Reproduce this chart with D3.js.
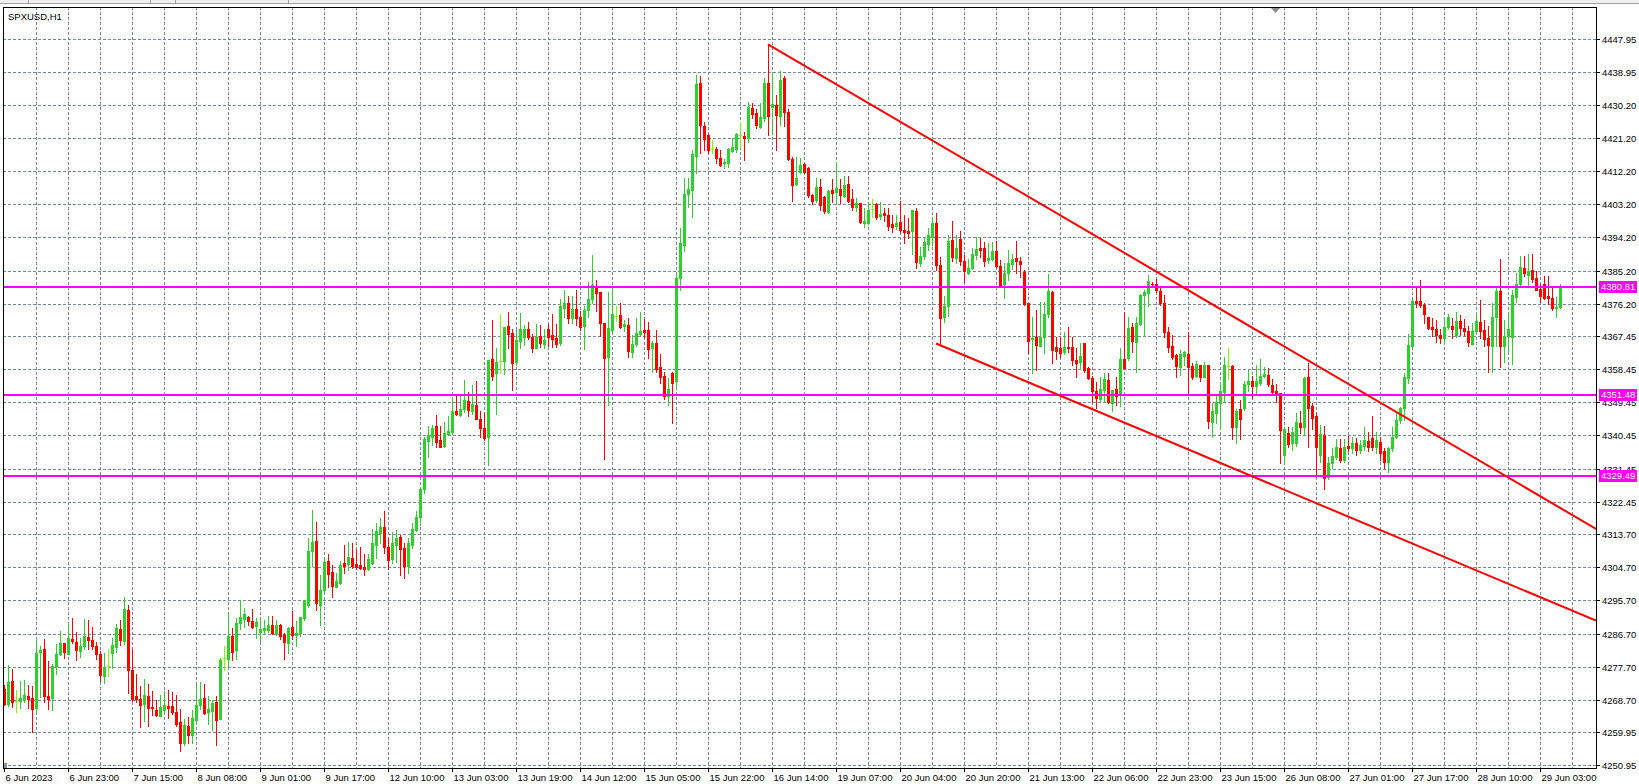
<!DOCTYPE html>
<html><head><meta charset="utf-8">
<script src="https://cdn.jsdelivr.net/npm/d3@7"></script>
<style>
html,body{margin:0;padding:0;background:#fff;}
svg{display:block;font-family:"Liberation Sans",Arial,sans-serif;}
</style>
</head><body>
<svg id="chart" width="1639" height="784"></svg>
<script>
const symbolTitle = "SPXUSD,H1";
const timeLabels = ["6 Jun 2023","6 Jun 23:00","7 Jun 15:00","8 Jun 08:00","9 Jun 01:00","9 Jun 17:00","12 Jun 10:00","13 Jun 03:00","13 Jun 19:00","14 Jun 12:00","15 Jun 05:00","15 Jun 22:00","16 Jun 14:00","19 Jun 07:00","20 Jun 04:00","20 Jun 20:00","21 Jun 13:00","22 Jun 06:00","22 Jun 23:00","23 Jun 15:00","26 Jun 08:00","27 Jun 01:00","27 Jun 17:00","28 Jun 10:00","29 Jun 03:00"];
const timeLabelBars = [0,16,32,48,64,80,96,112,128,144,160,176,192,208,224,240,256,272,288,304,320,336,352,368,384];
const priceTicks = ["4447.95","4438.95","4430.20","4421.20","4412.20","4403.20","4394.20","4385.20","4376.20","4367.45","4358.45","4349.45","4340.45","4331.45","4322.45","4313.70","4304.70","4295.70","4286.70","4277.70","4268.70","4259.95","4250.95"];
const levelPrices = [4380.81, 4351.48, 4329.49];
const trendUpper = [[191, 4446.6], [398, 4315.1]];
const trendLower = [[233, 4365.4], [398, 4290.2]];

const open = [
4271.6,4267.6,4273.8,4268.3,4268.5,4268.8,4269.8,4269.2,4266.6,4281.8,
4282.5,4269.8,4269.3,4277.9,4281.2,4284.1,4281.2,4285.2,4284.4,4282.1,
4283.3,4285.8,4285.0,4283.3,4281.2,4275.2,4277.9,4281.4,4283.0,4287.9,
4284.8,4293.1,4276.8,4269.8,4268.9,4267.6,4269.8,4266.8,4266.0,4264.3,
4266.0,4267.0,4267.0,4265.4,4262.7,4257.1,4261.6,4259.3,4263.2,4267.3,
4269.2,4265.4,4265.7,4268.1,4263.5,4280.1,4279.8,4286.0,4282.2,4289.5,
4290.6,4291.1,4290.1,4288.8,4287.2,4287.7,4287.7,4289.0,4286.6,4289.0,
4286.3,4284.2,4288.4,4286.3,4286.8,4290.8,4294.4,4309.1,4311.8,4294.4,
4298.5,4306.4,4303.5,4299.4,4300.5,4305.8,4305.6,4307.3,4305.6,4305.3,
4304.7,4304.2,4305.8,4310.7,4313.9,4315.7,4310.3,4306.8,4310.7,4313.0,
4310.0,4305.0,4310.7,4314.8,4318.2,4325.9,4339.0,4339.9,4343.0,4339.2,
4337.7,4340.9,4341.5,4347.1,4346.0,4347.5,4349.9,4347.2,4348.7,4344.9,
4342.6,4340.1,4361.2,4357.3,4360.7,4360.7,4370.2,4368.2,4360.5,4366.2,
4367.3,4369.3,4367.3,4364.3,4367.4,4365.3,4369.3,4367.7,4367.0,4365.6,
4375.1,4376.3,4372.2,4374.9,4372.7,4370.2,4374.5,4377.5,4381.0,4379.5,
4370.9,4361.8,4369.1,4372.9,4373.1,4370.2,4370.4,4363.2,4365.3,4368.0,
4369.1,4369.1,4364.1,4365.6,4358.9,4356.6,4351.2,4357.5,4355.1,4383.3,
4392.1,4406.0,4407.1,4416.4,4436.2,4424.5,4422.0,4418.4,4418.2,4415.8,
4414.3,4414.5,4417.6,4418.2,4422.0,4421.8,4421.1,4429.2,4428.0,4424.1,
4426.5,4436.2,4429.7,4430.1,4427.1,4437.4,4428.3,4415.5,4408.7,4412.0,
4414.1,4413.1,4405.7,4404.3,4408.0,4405.2,4401.2,4407.1,4406.6,4407.3,
4405.4,4408.7,4404.6,4402.5,4403.4,4398.2,4398.2,4401.9,4403.2,4400.0,
4400.9,4400.3,4397.7,4397.3,4398.3,4396.2,4396.0,4396.0,4401.4,4387.3,
4389.2,4392.4,4394.4,4398.0,4386.7,4372.5,4375.6,4393.5,4388.5,4393.7,
4387.8,4384.4,4385.8,4389.4,4391.2,4391.2,4388.1,4388.2,4390.5,4386.4,
4381.6,4384.4,4387.0,4388.5,4387.8,4384.9,4376.3,4366.5,4367.3,4364.8,
4367.3,4373.4,4379.5,4364.5,4364.3,4363.0,4364.5,4364.5,4360.8,4360.5,
4365.5,4358.7,4356.0,4352.6,4350.3,4352.8,4355.5,4349.2,4353.1,4351.4,
4361.2,4361.4,4370.0,4365.9,4370.7,4378.6,4379.0,4381.6,4381.6,4379.7,
4376.3,4368.6,4364.7,4362.3,4358.9,4362.0,4362.6,4359.3,4356.6,4359.6,
4356.4,4359.6,4344.2,4346.6,4349.2,4352.3,4359.4,4359.3,4342.8,4347.6,
4347.8,4354.3,4355.1,4353.9,4354.6,4356.6,4356.9,4354.2,4352.5,4351.9,
4335.2,4341.2,4338.3,4338.3,4343.9,4342.8,4356.4,4348.5,4345.7,4335.2,
4340.6,4329.1,4333.1,4334.7,4337.0,4333.8,4337.7,4337.0,4338.3,4336.5,
4337.7,4339.0,4339.7,4337.4,4338.8,4336.1,4333.3,4337.0,4340.1,4344.7,
4347.8,4356.0,4364.7,4376.9,4376.9,4375.9,4372.7,4369.8,4369.3,4367.7,
4367.0,4369.8,4370.2,4367.7,4371.5,4369.5,4368.9,4365.3,4368.9,4371.3,
4369.1,4366.8,4364.8,4372.5,4379.7,4364.7,4367.4,4367.3,4378.1,4381.6,
4385.8,4384.0,4385.4,4383.3,4380.1,4381.6,4378.3,4377.8,4375.0,4375.4];

const high = [
4272.7,4278.1,4277.1,4271.4,4273.8,4274.1,4272.7,4272.5,4285.6,4283.3,
4285.2,4279.3,4278.4,4283.9,4287.4,4284.1,4289.3,4290.9,4287.1,4285.6,
4290.7,4290.4,4288.5,4284.4,4282.1,4281.4,4282.5,4285.5,4289.3,4290.4,
4296.6,4294.5,4282.5,4275.7,4272.5,4274.4,4273.0,4271.1,4268.8,4270.0,
4271.1,4271.4,4270.8,4270.0,4266.2,4263.5,4264.1,4266.0,4272.7,4273.6,
4273.0,4269.8,4268.7,4269.8,4280.1,4283.3,4292.2,4288.1,4290.8,4295.8,
4293.5,4291.5,4293.3,4290.8,4290.6,4290.4,4291.5,4291.5,4290.4,4289.3,
4286.8,4288.6,4292.8,4290.1,4291.1,4295.8,4312.7,4320.2,4317.1,4302.6,
4307.1,4308.3,4305.3,4303.0,4306.4,4310.6,4311.6,4311.4,4309.6,4310.2,
4308.3,4308.2,4315.0,4316.6,4318.0,4320.0,4312.5,4314.3,4314.8,4313.4,
4311.2,4312.5,4316.6,4320.0,4326.4,4340.1,4343.0,4343.3,4346.0,4343.0,
4344.2,4345.6,4350.8,4351.7,4351.2,4355.5,4352.3,4354.1,4355.1,4347.2,
4346.5,4360.9,4371.8,4364.3,4373.4,4370.0,4374.0,4369.3,4369.1,4373.8,
4370.4,4371.3,4368.0,4370.7,4370.4,4369.3,4370.7,4373.4,4370.7,4377.4,
4379.9,4378.3,4378.3,4379.9,4374.3,4375.7,4382.2,4389.4,4382.6,4379.5,
4370.9,4379.3,4380.8,4375.6,4376.3,4371.8,4372.2,4367.7,4372.4,4374.0,
4372.1,4371.3,4366.1,4369.1,4362.5,4357.8,4356.0,4357.8,4384.5,4396.7,
4410.2,4410.2,4417.9,4438.3,4438.0,4425.4,4422.2,4420.6,4418.8,4417.9,
4415.5,4418.4,4421.1,4422.4,4425.6,4422.9,4431.0,4430.8,4429.0,4430.6,
4437.5,4446.6,4439.2,4432.8,4439.3,4438.1,4429.0,4415.9,4415.9,4415.8,
4414.3,4413.3,4405.9,4410.2,4410.0,4405.5,4407.1,4410.0,4414.7,4410.0,
4410.9,4410.9,4407.3,4404.8,4403.4,4402.1,4403.4,4404.6,4403.4,4403.7,
4402.1,4402.1,4400.3,4400.3,4404.1,4400.3,4399.4,4401.6,4402.1,4391.7,
4394.2,4396.7,4399.8,4400.7,4388.8,4378.3,4394.9,4398.6,4394.9,4395.8,
4389.4,4388.3,4391.4,4394.4,4394.1,4393.0,4392.8,4393.0,4393.2,4388.1,
4387.2,4390.8,4389.7,4393.2,4389.0,4385.4,4376.3,4372.7,4374.5,4376.8,
4376.8,4384.2,4379.7,4367.3,4367.1,4368.6,4370.0,4367.1,4364.3,4365.5,
4365.5,4358.9,4356.6,4354.9,4356.4,4357.5,4357.5,4352.8,4356.4,4364.3,
4374.0,4372.7,4371.1,4372.5,4378.8,4379.9,4384.0,4382.2,4383.0,4380.4,
4378.6,4370.0,4367.7,4362.6,4363.7,4363.5,4368.6,4360.0,4360.7,4359.6,
4360.5,4359.6,4349.2,4351.2,4354.8,4361.8,4364.3,4359.6,4347.6,4350.1,
4355.1,4358.2,4356.7,4359.6,4361.2,4358.9,4358.7,4355.7,4354.3,4351.9,
4342.8,4342.8,4342.8,4346.6,4347.1,4356.4,4360.0,4349.2,4346.5,4343.3,
4343.1,4334.7,4337.0,4339.4,4339.4,4339.4,4340.3,4340.1,4339.7,4339.2,
4342.8,4341.5,4345.6,4341.5,4340.1,4337.0,4337.4,4342.8,4346.5,4348.3,
4357.5,4368.0,4377.4,4380.6,4382.6,4376.3,4372.7,4372.4,4371.8,4369.3,
4372.1,4373.4,4372.2,4374.0,4373.1,4372.1,4370.2,4370.9,4373.1,4377.2,
4371.8,4370.2,4376.3,4380.8,4388.3,4371.8,4374.0,4379.9,4384.6,4389.2,
4389.2,4389.6,4389.6,4385.1,4381.5,4383.8,4383.7,4380.6,4378.1,4381.5];

const low = [
4267.3,4267.1,4266.9,4265.5,4266.6,4268.0,4266.6,4260.0,4265.5,4269.4,
4268.2,4266.2,4266.0,4275.7,4280.9,4280.2,4281.2,4284.1,4279.5,4280.3,
4282.4,4282.4,4282.5,4279.8,4273.7,4273.3,4275.2,4277.4,4281.8,4283.6,
4283.8,4270.7,4268.5,4268.0,4261.4,4263.0,4261.7,4264.6,4264.3,4264.3,
4265.4,4263.8,4264.9,4261.6,4254.9,4256.5,4257.0,4257.0,4262.2,4266.2,
4264.9,4262.2,4260.5,4256.5,4263.5,4276.8,4277.9,4279.5,4279.7,4287.8,
4288.6,4289.0,4288.3,4285.4,4284.7,4286.8,4287.2,4286.5,4286.3,4285.1,
4279.7,4281.3,4285.1,4283.3,4286.1,4290.4,4294.0,4305.0,4293.1,4289.0,
4297.8,4299.2,4296.7,4299.2,4300.1,4303.2,4303.9,4304.6,4304.3,4304.2,
4302.6,4303.9,4305.6,4307.3,4311.2,4308.5,4304.1,4305.9,4306.0,4302.6,
4301.9,4303.2,4310.0,4314.6,4316.2,4324.9,4334.7,4337.9,4337.4,4337.4,
4337.4,4340.6,4341.0,4346.0,4345.7,4346.9,4345.7,4346.2,4344.8,4340.1,
4339.2,4332.4,4355.5,4346.3,4357.3,4357.1,4364.3,4352.8,4359.6,4364.1,
4365.0,4366.5,4363.2,4364.3,4364.5,4364.3,4364.7,4364.5,4364.4,4365.0,
4372.7,4371.1,4370.9,4370.4,4369.1,4364.0,4372.7,4376.3,4374.3,4367.4,
4334.0,4348.7,4368.2,4371.6,4369.5,4368.9,4361.7,4361.8,4364.7,4367.7,
4367.3,4361.6,4357.8,4357.8,4354.6,4350.3,4348.7,4343.9,4353.2,4379.9,
4390.5,4402.5,4399.8,4411.6,4417.0,4417.9,4417.0,4417.0,4414.3,4413.6,
4412.9,4413.4,4417.3,4417.3,4418.4,4415.2,4420.2,4426.5,4423.8,4423.8,
4425.8,4422.0,4422.2,4417.9,4424.7,4424.5,4415.2,4404.2,4408.4,4411.8,
4411.8,4405.2,4403.2,4403.9,4401.6,4400.7,4400.7,4403.9,4404.1,4403.6,
4405.2,4403.9,4401.6,4401.4,4398.0,4396.9,4397.8,4399.8,4399.1,4399.1,
4398.7,4396.2,4395.6,4396.4,4395.7,4392.6,4393.9,4389.7,4385.8,4386.5,
4388.2,4390.8,4392.0,4385.4,4365.2,4371.3,4372.9,4387.8,4387.3,4386.7,
4382.2,4384.3,4385.5,4388.3,4388.8,4386.4,4387.3,4388.1,4386.1,4380.7,
4377.8,4382.6,4385.5,4384.6,4383.5,4375.9,4362.9,4357.5,4358.2,4364.7,
4362.9,4372.7,4360.2,4361.2,4361.7,4362.6,4363.0,4359.6,4356.4,4358.4,
4357.6,4355.8,4349.4,4347.8,4349.6,4349.6,4349.2,4347.1,4348.7,4348.5,
4358.4,4360.9,4363.2,4357.8,4370.4,4367.5,4375.6,4380.8,4379.5,4375.9,
4367.1,4363.0,4361.2,4356.4,4356.9,4359.6,4352.1,4355.7,4356.2,4355.1,
4356.2,4342.4,4340.1,4343.9,4342.1,4349.4,4355.7,4339.4,4338.3,4339.4,
4347.4,4352.5,4350.5,4351.9,4354.2,4356.4,4353.9,4351.9,4349.6,4332.9,
4332.6,4337.4,4336.5,4337.7,4341.0,4340.6,4337.4,4342.2,4329.7,4333.3,
4325.8,4328.6,4331.5,4334.1,4333.3,4333.3,4336.1,4335.6,4335.2,4335.6,
4336.5,4336.1,4336.5,4335.6,4333.8,4331.5,4330.5,4336.1,4339.7,4343.9,
4344.7,4354.8,4364.6,4375.4,4375.4,4370.9,4369.3,4367.4,4365.9,4365.5,
4365.3,4369.3,4367.0,4367.3,4367.7,4367.7,4364.7,4365.3,4368.2,4367.0,
4364.6,4357.8,4357.8,4364.7,4358.9,4360.5,4363.2,4359.8,4376.8,4381.3,
4383.8,4381.3,4382.2,4379.9,4376.8,4377.4,4376.1,4374.5,4372.7,4375.0];

const close = [
4267.6,4273.6,4268.0,4268.3,4269.2,4270.0,4269.0,4266.1,4281.3,4282.2,
4269.8,4268.9,4277.9,4281.2,4284.1,4281.7,4285.5,4284.7,4282.2,4283.3,
4286.0,4285.0,4283.3,4281.2,4275.5,4277.6,4277.9,4283.6,4288.2,4285.0,
4293.4,4276.8,4268.9,4268.9,4267.3,4270.0,4266.5,4266.6,4264.6,4266.8,
4267.3,4266.5,4265.4,4262.2,4257.1,4261.9,4259.2,4263.8,4267.3,4268.9,
4265.1,4266.2,4267.9,4263.3,4279.5,4280.1,4286.0,4281.8,4289.5,4291.1,
4292.0,4290.1,4288.6,4289.8,4287.8,4288.1,4289.0,4286.8,4289.0,4285.9,
4284.5,4288.1,4286.3,4286.8,4291.1,4295.8,4309.1,4311.6,4294.9,4298.5,
4306.2,4302.9,4299.7,4301.0,4305.3,4305.0,4307.6,4305.0,4304.7,4304.6,
4304.1,4306.8,4311.2,4314.6,4315.7,4310.3,4306.7,4311.2,4312.5,4309.6,
4305.0,4311.2,4315.1,4318.2,4325.8,4339.5,4340.5,4342.6,4338.8,4337.4,
4341.0,4341.7,4347.1,4346.3,4347.6,4350.1,4347.4,4349.0,4344.9,4342.6,
4339.7,4360.9,4356.7,4360.5,4360.7,4370.0,4368.0,4360.2,4366.4,4369.3,
4369.3,4367.3,4364.1,4367.3,4365.6,4366.4,4367.3,4366.5,4365.3,4375.6,
4376.5,4372.2,4374.9,4372.2,4370.0,4374.5,4377.5,4381.3,4379.0,4370.9,
4361.4,4369.7,4373.4,4372.9,4370.0,4370.7,4363.5,4365.3,4368.2,4368.8,
4368.6,4363.9,4365.5,4358.4,4356.4,4351.2,4353.0,4354.8,4383.1,4392.6,
4406.0,4407.3,4416.8,4435.8,4424.7,4420.9,4417.9,4418.4,4415.8,4413.8,
4414.7,4418.2,4418.8,4422.3,4422.0,4421.1,4429.7,4427.7,4424.7,4427.0,
4436.2,4427.2,4430.4,4427.4,4436.9,4428.3,4415.5,4408.4,4410.2,4413.8,
4412.0,4405.7,4404.2,4407.8,4403.0,4401.4,4406.9,4406.3,4407.5,4405.7,
4408.4,4404.2,4402.5,4403.4,4398.3,4398.6,4401.6,4401.9,4399.8,4400.5,
4400.3,4397.4,4396.9,4398.2,4396.2,4395.6,4395.5,4401.6,4387.6,4389.2,
4393.0,4394.9,4398.0,4386.7,4372.4,4375.6,4393.2,4389.0,4391.2,4387.8,
4385.2,4385.8,4389.7,4391.1,4390.8,4387.9,4388.7,4390.5,4386.4,4381.3,
4384.4,4387.2,4388.3,4387.8,4387.0,4376.0,4366.1,4366.8,4365.0,4367.3,
4373.4,4379.7,4363.6,4363.5,4362.9,4364.5,4364.1,4360.8,4360.2,4362.0,
4358.2,4356.1,4352.6,4350.5,4353.1,4355.7,4349.4,4352.8,4351.2,4361.2,
4358.7,4369.7,4366.2,4371.1,4378.6,4379.5,4382.4,4381.5,4379.8,4376.3,
4368.6,4364.4,4361.8,4359.3,4362.6,4363.2,4358.9,4356.4,4359.9,4356.4,
4359.6,4344.4,4347.1,4349.4,4352.5,4359.5,4359.4,4342.8,4347.1,4344.8,
4354.4,4355.1,4353.9,4355.1,4356.6,4357.1,4354.3,4352.3,4351.9,4341.8,
4342.2,4338.1,4341.3,4344.0,4342.8,4356.1,4347.8,4345.3,4337.4,4340.9,
4328.8,4332.9,4335.0,4337.4,4333.8,4337.4,4337.0,4338.3,4336.5,4337.9,
4339.2,4337.4,4337.4,4339.2,4335.6,4333.3,4337.0,4340.1,4344.7,4347.8,
4356.4,4365.0,4377.0,4376.3,4375.9,4373.4,4369.5,4369.3,4367.7,4366.8,
4369.8,4372.5,4369.3,4371.5,4369.7,4368.9,4365.9,4368.9,4371.5,4368.9,
4366.5,4365.0,4372.5,4379.7,4364.6,4367.4,4369.3,4378.6,4381.6,4386.1,
4384.4,4385.2,4382.9,4379.9,4378.3,4377.7,4377.8,4375.1,4375.4,4381.0];

// ---------- layout ----------
const W = 1639, H = 784;
const plot = {left: 3, right: 1596, top: 7, bottom: 768};
const svg = d3.select("#chart");

const x = d3.scaleLinear().domain([0, 398]).range([4, 1596]);
const y = d3.scaleLinear().domain([4250.95, 4447.95]).range([765.3, 39.3]);

const UP = "#32CD32", DOWN = "#FF0000", DOJI = "#7CFC00", GRID = "#778899";

// window strip at top
svg.append("rect").attr("x",0).attr("y",0).attr("width",W).attr("height",4).attr("fill","#F0F0F0");
svg.append("line").attr("x1",0).attr("x2",W).attr("y1",3.5).attr("y2",3.5).attr("stroke","#A0A0A0");
[28,150,175,288].forEach(px => svg.append("line").attr("x1",px+0.5).attr("x2",px+0.5).attr("y1",0).attr("y2",4).attr("stroke","#A0A0A0"));

// clip
svg.append("defs").append("clipPath").attr("id","plotclip")
  .append("rect").attr("x",plot.left).attr("y",plot.top).attr("width",plot.right-plot.left).attr("height",plot.bottom-plot.top);

const g = svg.append("g").attr("clip-path","url(#plotclip)");

// grid
const gridG = g.append("g").attr("shape-rendering","crispEdges");
priceTicks.forEach(t => {
  const yy = Math.round(y(+t)) + 0.5;
  gridG.append("line").attr("x1",plot.left).attr("x2",plot.right).attr("y1",yy).attr("y2",yy)
    .attr("stroke",GRID).attr("stroke-dasharray","3,2");
});
const vBars = d3.range(8, 398, 8);
vBars.forEach(b => {
  const xx = Math.round(x(b)) + 0.5;
  gridG.append("line").attr("x1",xx).attr("x2",xx).attr("y1",plot.top).attr("y2",plot.bottom)
    .attr("stroke",GRID).attr("stroke-dasharray","3,2");
});

// candles
const candleG = g.append("g").attr("shape-rendering","crispEdges");
open.forEach((o, i) => {
  const c = close[i], hi = Math.max(high[i], o, c), lo = Math.min(low[i], o, c);
  const cx = Math.round(x(i));
  const doji = Math.abs(o - c) < 0.05;
  const col = doji ? DOJI : (c > o ? UP : DOWN);
  const yh = Math.round(y(hi)), yl = Math.round(y(lo));
  candleG.append("rect").attr("x",cx).attr("y",yh).attr("width",1).attr("height",Math.max(1,yl-yh+1)).attr("fill",col);
  const yt = Math.round(y(Math.max(o,c))), yb = Math.round(y(Math.min(o,c)));
  candleG.append("rect").attr("x",cx-1).attr("y",yt).attr("width",3).attr("height",Math.max(1,yb-yt+1)).attr("fill",col);
});

// horizontal levels
levelPrices.forEach(p => {
  const yy = Math.round(y(p));
  g.append("line").attr("x1",plot.left).attr("x2",plot.right).attr("y1",yy).attr("y2",yy)
    .attr("stroke","#FF00FF").attr("stroke-width",2);
});

// trend lines
[trendUpper, trendLower].forEach(tl => {
  g.append("line")
    .attr("x1",x(tl[0][0])).attr("y1",y(tl[0][1]))
    .attr("x2",x(tl[1][0])).attr("y2",y(tl[1][1]))
    .attr("stroke","#FF0000").attr("stroke-width",2);
});

// frame
svg.append("rect").attr("x",plot.left+0.5).attr("y",plot.top+0.5)
  .attr("width",plot.right-plot.left).attr("height",plot.bottom-plot.top)
  .attr("fill","none").attr("stroke","#000").attr("shape-rendering","crispEdges");

// chart shift marker
svg.append("path").attr("d","M1271,8 L1280,8 L1275.5,13 Z").attr("fill","#8C8C8C");

// small scale marker bottom-left
svg.append("rect").attr("x",4).attr("y",763).attr("width",3).attr("height",5).attr("fill","#8C96A0");

// title
svg.append("text").attr("x",8).attr("y",19.5).attr("font-size",9.5).attr("fill","#000").text(symbolTitle);

// right axis
const axR = svg.append("g");
priceTicks.forEach(t => {
  const yy = Math.round(y(+t)) + 0.5;
  axR.append("line").attr("x1",plot.right).attr("x2",plot.right+4).attr("y1",yy).attr("y2",yy).attr("stroke","#000").attr("shape-rendering","crispEdges");
  axR.append("text").attr("x",plot.right+6).attr("y",yy).attr("dy","0.35em").attr("font-size",9.5).attr("fill","#000").text(t);
});
levelPrices.forEach(p => {
  const yy = Math.round(y(p));
  axR.append("rect").attr("x",plot.right+3).attr("y",yy-6).attr("width",38).attr("height",12).attr("fill","#FF00FF");
  axR.append("text").attr("x",plot.right+5).attr("y",yy).attr("dy","0.35em").attr("font-size",9.5).attr("fill","#fff").text(p.toFixed(2));
});

// bottom axis
const axB = svg.append("g");
timeLabels.forEach((lab, k) => {
  const xx = Math.round(x(timeLabelBars[k])) + 0.5;
  axB.append("line").attr("x1",xx).attr("x2",xx).attr("y1",plot.bottom).attr("y2",plot.bottom+4).attr("stroke","#000").attr("shape-rendering","crispEdges");
  axB.append("text").attr("x",xx+1).attr("y",781).attr("font-size",9.5).attr("fill","#000").text(lab);
});
</script>
</body></html>
